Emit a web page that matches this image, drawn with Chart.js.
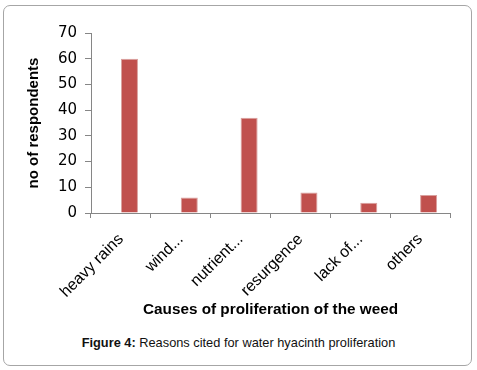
<!DOCTYPE html>
<html>
<head>
<meta charset="utf-8">
<script src="https://cdn.jsdelivr.net/npm/chart.js@4"></script>
<style>
  body { margin: 0; background: #fff; }
  #frame {
    position: absolute; left: 3px; top: 5px; width: 467px; height: 359px;
    border: 1px solid #a6a6a6; border-radius: 7px;
  }
  #wrap { position: absolute; left: 0; top: 0; width: 477px; height: 330px; }
  #caption {
    position: absolute; left: 0; top: 335px; width: 477px; text-align: center;
    font-family: "Liberation Sans", Arial, sans-serif; font-size: 12.8px; color: #111;
  }
</style>
</head>
<body>
<div id="frame"></div>
<div id="wrap"><canvas id="weedChart"></canvas></div>
<div id="caption"><b>Figure 4:</b> Reasons cited for water hyacinth proliferation</div>
<script>
const causes = ["heavy rains", "wind...", "nutrient...", "resurgence", "lack of...", "others"];
// the spreadsheet had an empty first series, which pushes the red bars right of centre
const emptySeries = [null, null, null, null, null, null];
const respondents = [60, 6, 37, 8, 4, 7];
const yTicks = [0, 10, 20, 30, 40, 50, 60, 70];

const axisGrey = "#868686";

const ctx = document.getElementById("weedChart").getContext("2d");

new Chart(ctx, {
  type: "bar",
  data: {
    labels: causes,
    datasets: [
      {
        data: emptySeries,
        backgroundColor: "#4F81BD",
        categoryPercentage: 0.57,
        barPercentage: 1
      },
      {
        data: respondents,
        backgroundColor: "#C0504D",
        borderColor: "#d9a09e",
        borderWidth: { top: 1, left: 1, right: 1, bottom: 0 },
        categoryPercentage: 0.57,
        barPercentage: 1
      }
    ]
  },
  options: {
    responsive: true,
    maintainAspectRatio: false,
    animation: false,
    layout: { padding: { left: 25, right: 27, top: 33, bottom: 11 } },
    plugins: {
      legend: { display: false },
      tooltip: { enabled: false }
    },
    scales: {
      x: {
        grid: {
          display: true,
          drawOnChartArea: false,
          drawTicks: true,
          tickLength: 5,
          color: axisGrey
        },
        border: { display: true, color: axisGrey },
        ticks: {
          minRotation: 45,
          maxRotation: 45,
          autoSkip: false,
          padding: 12,
          color: "#000",
          font: { family: "Liberation Sans", size: 16 }
        },
        title: {
          display: true,
          text: "Causes of proliferation of the weed",
          color: "#000",
          padding: 0,
          font: { family: "Liberation Sans", size: 15.3, weight: "bold" }
        },
        afterFit(scale) {
          scale.height = 106;
        }
      },
      y: {
        min: 0,
        max: 70,
        afterBuildTicks(scale) {
          scale.ticks = yTicks.map(v => ({ value: v }));
        },
        grid: {
          display: true,
          drawOnChartArea: false,
          drawTicks: true,
          tickLength: 6,
          color: axisGrey
        },
        border: { display: true, color: axisGrey },
        ticks: {
          padding: 8,
          color: "#000",
          font: { family: "DejaVu Sans", size: 15 }
        },
        title: {
          display: true,
          text: "no of respondents",
          color: "#000",
          padding: 0,
          font: { family: "Liberation Sans", size: 15, weight: "bold" }
        },
        afterFit(scale) {
          scale.width = 66;
        }
      }
    }
  }
});
</script>
</body>
</html>
